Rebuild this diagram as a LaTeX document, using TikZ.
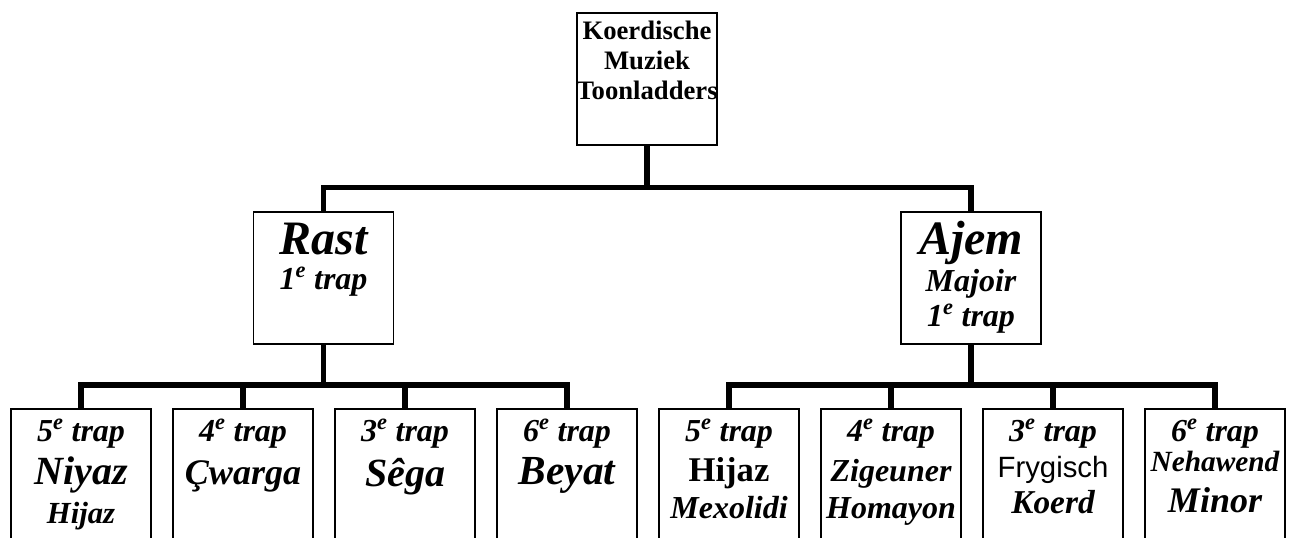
\documentclass[tikz,border=0pt]{standalone}
\usepackage{fontspec}
\setmainfont{Liberation Serif}
\newfontfamily\arialfont{Liberation Sans}
\usetikzlibrary{positioning}

\newcommand\fsz[2]{\fontsize{#1}{#2}\selectfont}
\newcommand\sz[1]{\fontsize{#1}{#1}\selectfont}
\newcommand\bi{\bfseries\itshape}

\tikzset{
    box/.style={draw,line width=1.2pt,minimum width=105pt,minimum height=99pt,inner sep=0pt,outer sep=0pt},
    leafbox/.style={box,minimum height=120pt},
    boxtext/.style={align=center,inner sep=0pt},
    tree/.style={line width=4pt},
}

\begin{document}
\begin{tikzpicture}[x=0.75pt,y=-0.75pt]
    \useasboundingbox (0,0) rectangle (1291,538);

    % top and middle level
    \node[box,anchor=north] (root) at (647,13) {};
    \node[box,anchor=north] (rast) at (323.5,212) {};
    \node[box,anchor=north] (ajem) at (971,212) {};

    % bottom level
    \node[leafbox,anchor=north west] (niyaz) at (11,409) {};
    \node[leafbox,right=16.5pt of niyaz] (cwarga) {};
    \node[leafbox,right=16.5pt of cwarga] (sega) {};
    \node[leafbox,right=16.5pt of sega] (beyat) {};
    \node[leafbox,right=16.5pt of beyat] (hijaz) {};
    \node[leafbox,right=16.5pt of hijaz] (zigeuner) {};
    \node[leafbox,right=16.5pt of zigeuner] (frygisch) {};
    \node[leafbox,right=16.5pt of frygisch] (nehawend) {};

    % texts
    \node[boxtext,font=\bfseries\fsz{20}{22.5},below=5.8pt of root.north] (roottext) {Koerdische\\Muziek\\Toonladders};
    \node[boxtext,font=\bi\fsz{24}{26.25},below=8.4pt of rast.north] (rasttext) {{\sz{36}Rast}\\1\textsuperscript{e} trap};
    \node[boxtext,font=\bi\fsz{24}{27.75},below=6.5pt of ajem.north] (ajemtext) {{\sz{36}Ajem}\\Majoir\\[-1.5pt]1\textsuperscript{e} trap};

    \node[boxtext,font=\bi\fsz{24}{32.25},below=7pt of niyaz.north] (niyaztext) {5\textsuperscript{e} trap\\{\sz{30}Niyaz}\\[-3pt]{\sz{23}Hijaz}};
    \node[boxtext,font=\bi\fsz{24}{32.25},below=7pt of cwarga.north] (cwargatext) {4\textsuperscript{e} trap\\{\sz{27}Çwarga}};
    \node[boxtext,font=\bi\fsz{24}{33.75},below=7pt of sega.north] (segatext) {3\textsuperscript{e} trap\\{\sz{30}Sêga}};
    \node[boxtext,font=\bi\fsz{24}{32.25},below=7pt of beyat.north] (beyattext) {6\textsuperscript{e} trap\\{\sz{31}Beyat}};
    \node[boxtext,font=\bi\fsz{24}{30},below=7pt of hijaz.north] (hijaztext) {5\textsuperscript{e} trap\\{\upshape\sz{26}Hijaz}\\[-2.25pt]Mexolidi};
    \node[boxtext,font=\bi\fsz{24}{30},below=7pt of zigeuner.north] (zigeunertext) {4\textsuperscript{e} trap\\Zigeuner\\[-2.25pt]Homayon};
    \node[boxtext,font=\bi\fsz{24}{27},below=7pt of frygisch.north] (frygischtext) {3\textsuperscript{e} trap\\{\arialfont\mdseries\upshape\sz{22}Frygisch}\\{\sz{25}Koerd}};
    \node[boxtext,font=\bi\fsz{24}{23},below=7pt of nehawend.north] (nehawendtext) {6\textsuperscript{e} trap\\{\sz{22}Nehawend}\\[7.5pt]{\sz{27}Minor}};

    % connectors
    \coordinate[below=31.9pt of root.south] (topjoin);
    \coordinate[below=30.75pt of rast.south] (leftjoin);
    \coordinate[below=30.75pt of ajem.south] (rightjoin);

    \draw[tree] (root.south) -- (topjoin);
    \draw[tree] (rast.north) |- (topjoin) -| (ajem.north);

    \draw[tree] (rast.south) -- (leftjoin);
    \draw[tree] (niyaz.north) |- (leftjoin) -| (beyat.north);
    \draw[tree] (cwarga.north) -- (cwarga.north |- leftjoin);
    \draw[tree] (sega.north) -- (sega.north |- leftjoin);

    \draw[tree] (ajem.south) -- (rightjoin);
    \draw[tree] (hijaz.north) |- (rightjoin) -| (nehawend.north);
    \draw[tree] (zigeuner.north) -- (zigeuner.north |- rightjoin);
    \draw[tree] (frygisch.north) -- (frygisch.north |- rightjoin);
\end{tikzpicture}
\end{document}
